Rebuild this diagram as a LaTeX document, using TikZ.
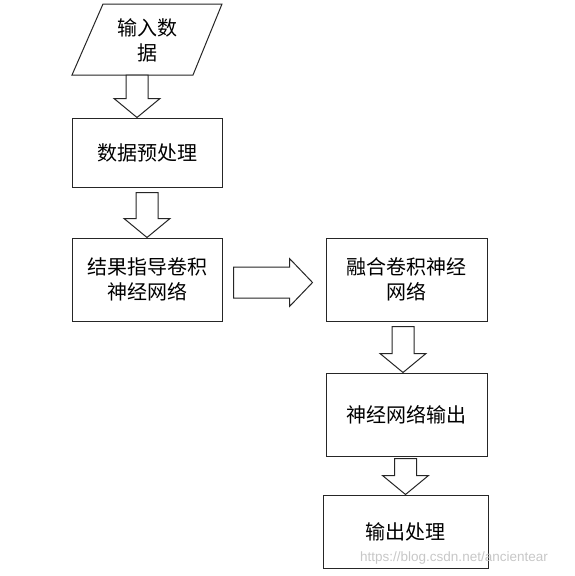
\documentclass[tikz,border=0pt]{standalone}
\usepackage{fontspec}
\setmainfont{Liberation Sans}
\newfontfamily\cjk{Noto Sans CJK SC}
\usetikzlibrary{calc}

% 向下的空心箭头: #1 = 箭杆顶端, #2 = 箭尖
\newcommand{\blockdown}[2]{%
  \draw[blockarrow] let \p1=#1, \p2=#2 in
    ({\x2-11pt},\y1) -- ({\x2+11pt},\y1) -- ({\x2+11pt},{\y2+19pt})
    -- ({\x2+23pt},{\y2+19pt}) -- (\x2,\y2) -- ({\x2-23pt},{\y2+19pt})
    -- ({\x2-11pt},{\y2+19pt}) -- cycle;}

\begin{document}
\begin{tikzpicture}[x=1pt,y=-1pt]
    % 样式
    \tikzset{
        box/.style={draw=black!85, line width=1pt, align=center, inner sep=0pt,
            font=\cjk\fontsize{20}{25}\selectfont},
        blockarrow/.style={draw=black!85, line width=1pt, fill=white, line join=miter},
    }
    \useasboundingbox (0,0) rectangle (574,576);

    % 输入 (平行四边形)
    \draw[blockarrow] (103,4) -- (222,4) -- (193,75) -- (72,75) -- cycle;
    \node[box, draw=none] (in) at (147,40) {输入数\\据};
    \coordinate (inb) at (137,75);

    % 处理步骤
    \node[box, minimum width=150pt, minimum height=69pt] (pre) at (147,152.5) {数据预处理};
    \node[box, minimum width=150pt, minimum height=83pt] (guide) at (147,279.5) {结果指导卷积\\神经网络};
    \node[box, minimum width=161pt, minimum height=83pt] (fuse) at (406.5,279.5) {融合卷积神经\\网络};
    \node[box, minimum width=161pt, minimum height=83pt] (nnout) at (406.5,414.5) {神经网络输出};
    \node[box, minimum width=165pt, minimum height=73pt] (post) at (405.5,531.5) {输出处理};

    % 空心箭头
    \blockdown{(inb)}{($(pre.north)+(-10,0)$)}
    \blockdown{($(pre.south)+(0,5)$)}{(guide.north)}
    \blockdown{($(fuse.south)+(-3.5,5)$)}{($(nnout.north)+(-3.5,0)$)}
    \blockdown{($(nnout.south)+(0,2)$)}{(post.north)}
    \draw[blockarrow] let \p1=($(guide.east)+(11,3)$), \p2=($(fuse.west)+(-13,3)$) in
        (\x1,{\y1+15.5pt}) -- ({\x2-23pt},{\y1+15.5pt}) -- ({\x2-23pt},{\y1+24pt})
        -- (\x2,\y1) -- ({\x2-23pt},{\y1-24pt}) -- ({\x2-23pt},{\y1-15.5pt})
        -- (\x1,{\y1-15.5pt}) -- cycle;

    % 水印
    \node[text=black!22, font=\fontsize{13.5}{14}\selectfont] (mark) at (454,558) {https://blog.csdn.net/ancientear};
\end{tikzpicture}
\end{document}
